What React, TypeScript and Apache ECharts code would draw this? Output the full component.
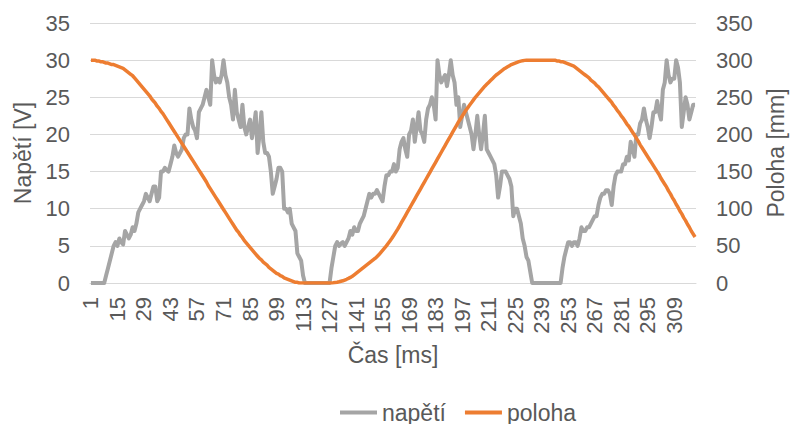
import React, { useEffect, useRef } from "react";
import * as echarts from "echarts";

// categories 1..320 (ms)
const categoryCount = 320;
const categories: string[] = Array.from({ length: categoryCount }, (_, i) => String(i + 1));

// napětí [V]
const napeti: number[] = [
  0, 0, 0, 0, 0, 0, 0, 0, 1, 2,
  3, 4, 5, 5.5, 5, 6, 5.5, 5.2, 7, 6.5,
  6, 6.5, 7.5, 7, 8, 9.5, 10, 10.5, 11, 12,
  11.5, 11, 12, 13, 13, 11, 11.5, 15, 15, 15.5,
  15.2, 15, 16, 17, 18.5, 17.5, 17, 17.5, 18, 19.5,
  20, 20, 23.5, 22, 21, 20.5, 19.5, 23, 23.5, 24,
  25, 26, 25, 24, 30, 28, 27, 27.5, 27, 28,
  30, 28, 27, 25, 24, 22, 26, 23, 22, 21,
  24, 21, 20, 21, 22, 19.5, 21, 23, 17.5, 20,
  23, 19, 17.5, 17.5, 17, 15, 12, 13, 14, 15.5,
  15.5, 15, 10, 10, 9.5, 10, 8, 7.5, 7, 4,
  3.5, 3, 1, 0, 0, 0, 0, 0, 0, 0,
  0, 0, 0, 0, 0, 0, 0, 2, 3.5, 5,
  5.5, 5, 5.3, 5.5, 5, 5.5, 6, 7, 6.5, 7.5,
  7, 7, 8, 8.5, 9, 10, 11, 12, 11.5, 12,
  12, 12.5, 12, 11.5, 11, 13, 14.5, 14.5, 15, 15,
  16, 15, 15.5, 18, 19, 19.5, 18, 17, 20, 20.5,
  22, 19, 21, 23, 20.5, 20, 19, 22, 23.5, 24,
  25, 24, 22, 30, 28, 27, 27.5, 28, 26.5, 28,
  30, 28, 27, 24, 25, 21, 22.5, 24, 23, 22,
  21, 20, 18, 20, 22.5, 20, 18, 20, 22.5, 18,
  17.5, 17, 16.5, 16, 14.5, 11.5, 13, 15, 15, 15,
  14.5, 14, 13, 9, 10, 10, 9, 8, 6, 5,
  3.5, 3, 1.5, 0, 0, 0, 0, 0, 0, 0,
  0, 0, 0, 0, 0, 0, 0, 0, 0, 2,
  3.5, 4.5, 5.5, 5.5, 5, 5.5, 5.5, 5, 6, 7.5,
  7, 7, 7.5, 7.5, 8, 8.5, 9, 9, 10.5, 11.5,
  12, 12, 12.5, 12.5, 12, 10.5, 13, 14.5, 15, 15,
  15, 16, 16, 17, 16.5, 19, 18, 17, 20, 20,
  21.5, 22, 23.5, 22, 21, 19.5, 21, 23, 23, 24.5,
  23, 22, 26, 27, 30, 28, 27, 27.5, 27.5, 30,
  29, 27, 21, 23, 25, 24, 22, 23, 24, 24,
];

// poloha [mm]
const poloha: number[] = [
  300, 300, 300, 299, 299, 298, 298, 297, 296, 296,
  295, 294, 294, 293, 292, 291, 290, 289, 287, 285,
  283, 281, 279, 276, 273, 270, 267, 264, 261, 258,
  255, 252, 248, 245, 242, 238, 235, 231, 228, 224,
  220, 216, 212, 208, 204, 200, 196, 192, 188, 184,
  180, 176, 172, 168, 164, 160, 156, 152, 148, 144,
  140, 136, 131, 127, 123, 119, 115, 111, 107, 103,
  99, 95, 91, 87, 83, 79, 75, 71, 68, 64,
  61, 57, 54, 51, 48, 45, 42, 39, 36, 33,
  31, 28, 26, 24, 21, 19, 17, 15, 13, 12,
  10, 9, 7, 6, 5, 4, 3, 2, 1, 1,
  0, 0, 0, 0, 0, 0, 0, 0, 0, 0,
  0, 0, 0, 0, 0, 0, 0, 0, 0.2, 0.6,
  1, 1.6, 2.3, 3, 4, 5, 6.2, 7.5, 9, 11,
  13, 15, 17, 19, 21, 23, 25, 27, 29, 31,
  33, 35.5, 38, 41, 44, 47, 50, 53.5, 57, 60.5,
  64.5, 68.5, 72.5, 77, 81.5, 86, 90.5, 95, 99.5, 104,
  108.5, 113, 117.5, 122, 126.5, 131, 135.5, 140, 144.5, 149,
  153.5, 158, 162.5, 167, 171.5, 176, 180.5, 185, 189.5, 194,
  198.5, 203, 207.5, 212, 216.5, 220.5, 224.5, 228.5, 232.5, 236,
  239.5, 243, 246.5, 250, 253, 256, 259, 262, 265, 267.5,
  270, 272.5, 275, 277.5, 280, 282, 284, 286, 288, 289.5,
  291, 292.5, 294, 295, 296, 297, 298, 298.7, 299.3, 299.7,
  300, 300, 300, 300, 300, 300, 300, 300, 300, 300,
  300, 300, 300, 300, 300, 300, 299, 299, 298, 298,
  297, 296, 295, 294, 293, 292, 290, 288, 286, 284,
  282, 280, 278, 276, 273, 271, 269, 266, 264, 261,
  258, 255, 252, 249, 246, 243, 239, 236, 232, 229,
  225, 222, 218, 214, 211, 207, 203, 199, 195, 191,
  186, 182, 178, 174, 170, 166, 162, 158, 154, 150,
  146, 141, 137, 133, 129, 124, 120, 115, 111, 106,
  102, 97, 93, 88, 84, 79, 75, 70, 66, 62,
];

const FONT = "'Liberation Sans', Arial, sans-serif";
const TEXT = "#595959";
const GRID = "#D9D9D9";

export default function App() {
  const ref = useRef<HTMLDivElement>(null);
  useEffect(() => {
    if (!ref.current) return;
    const chart = echarts.init(ref.current, undefined, { renderer: "svg" });
    chart.setOption({
      animation: false,
      backgroundColor: "#ffffff",
      textStyle: { fontFamily: FONT, color: TEXT },
      grid: { left: 90, right: 93, top: 23, bottom: 141, containLabel: false },
      legend: {
        left: 335,
        top: 396,
        itemWidth: 37,
        itemHeight: 4,
        itemGap: 19,
        icon: "rect",
        textStyle: { fontFamily: FONT, fontSize: 23, color: TEXT },
        data: ["napětí", "poloha"],
      },
      xAxis: {
        type: "category",
        data: categories,
        boundaryGap: true,
        axisLine: { show: true, lineStyle: { color: GRID, width: 1 } },
        axisTick: { show: false },
        axisLabel: {
          interval: 13,
          rotate: 90,
          fontSize: 22,
          color: TEXT,
          fontFamily: FONT,
          margin: 14,
        },
        name: "Čas [ms]",
        nameLocation: "middle",
        nameGap: 60,
        nameTextStyle: { fontSize: 23, color: TEXT, fontFamily: FONT },
      },
      yAxis: [
        {
          type: "value",
          min: 0,
          max: 35,
          interval: 5,
          axisLine: { show: false },
          axisTick: { show: false },
          splitLine: { show: true, lineStyle: { color: GRID, width: 1 } },
          axisLabel: { fontSize: 22, color: TEXT, fontFamily: FONT, margin: 20 },
          name: "Napětí [V]",
          nameLocation: "middle",
          nameRotate: 90,
          nameGap: 53,
          nameTextStyle: { fontSize: 23, color: TEXT, fontFamily: FONT },
        },
        {
          type: "value",
          min: 0,
          max: 350,
          interval: 50,
          position: "right",
          axisLine: { show: false },
          axisTick: { show: false },
          splitLine: { show: false },
          axisLabel: { fontSize: 22, color: TEXT, fontFamily: FONT, margin: 20 },
          name: "Poloha [mm]",
          nameLocation: "middle",
          nameRotate: 90,
          nameGap: 68,
          nameTextStyle: { fontSize: 23, color: TEXT, fontFamily: FONT },
        },
      ],
      series: [
        {
          name: "napětí",
          type: "line",
          yAxisIndex: 0,
          data: napeti,
          symbol: "none",
          color: "#A5A5A5",
          lineStyle: { color: "#A5A5A5", width: 4, join: "round" },
        },
        {
          name: "poloha",
          type: "line",
          yAxisIndex: 1,
          data: poloha,
          symbol: "none",
          color: "#ED7D31",
          lineStyle: { color: "#ED7D31", width: 3.5, join: "round" },
        },
      ],
    });
    return () => chart.dispose();
  }, []);
  return (
    <div
      ref={ref}
      style={{ position: "fixed", left: 0, top: 0, width: 795, height: 424, background: "#fff" }}
    />
  );
}
